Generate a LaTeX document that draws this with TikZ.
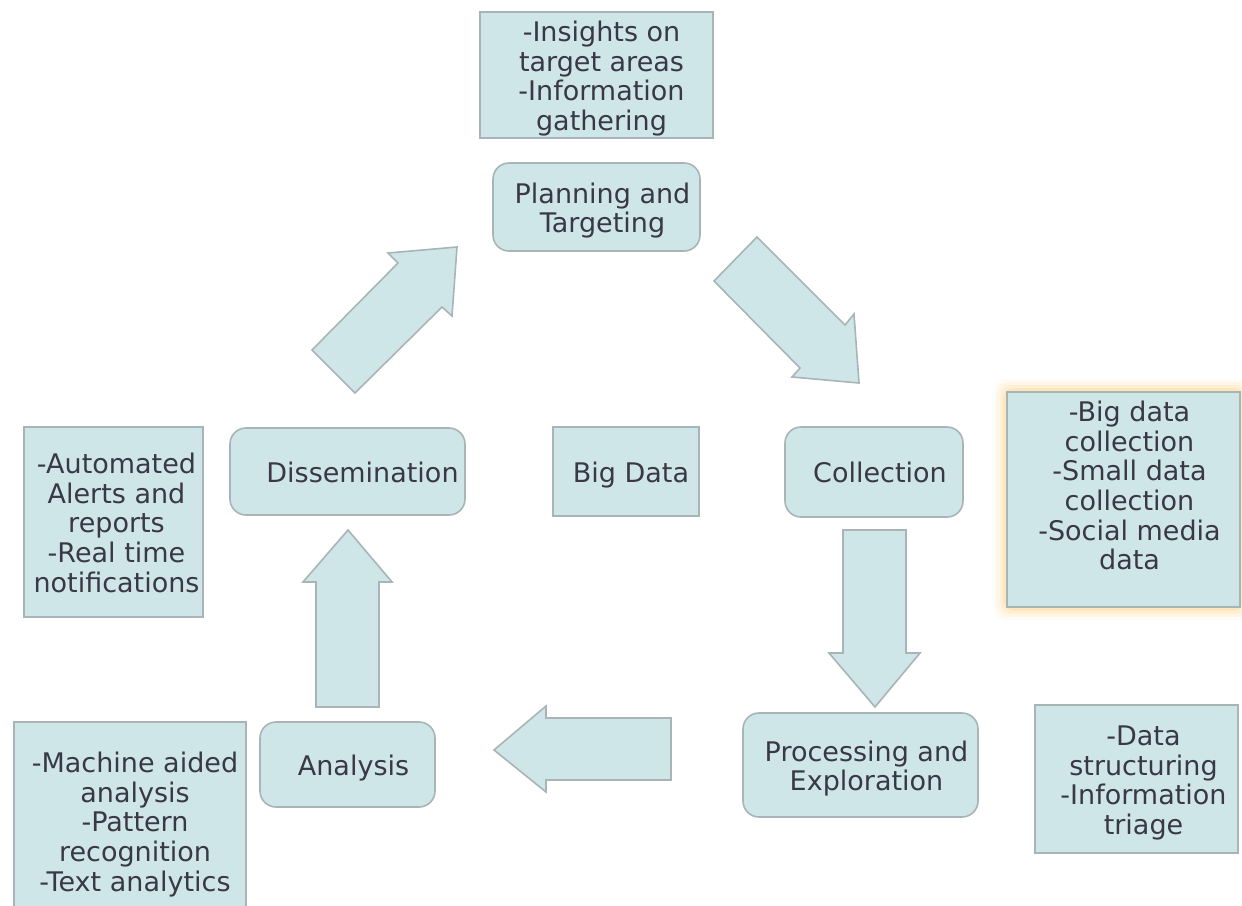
\documentclass[tikz,border=0pt]{standalone}
\usepackage{fontspec}
\setmainfont{DejaVu Sans}
\usetikzlibrary{calc}
\pgfdeclarelayer{background}
\pgfsetlayers{background,main}
\newlength\pxu \setlength\pxu{0.5pt}
\definecolor{boxfill}{RGB}{207,230,233}
\definecolor{boxline}{RGB}{168,180,182}
\definecolor{inkc}{RGB}{58,56,70}
\definecolor{glowc}{RGB}{255,196,90}
% centred block of lines, set a little right of and below the middle
\newcommand\cell[2]{\hspace*{#1}\raisebox{-2.5pt}[\height][\depth]{\begin{tabular}{@{}c@{}}#2\end{tabular}}}
\tikzset{
  base/.style={draw=boxline, fill=boxfill, line width=0.8pt, inner sep=0pt,
    text=inkc, font=\fontsize{13.5}{14.8}\selectfont},
  note/.style={base, rectangle},
  stage/.style={base, rounded corners=8pt},
  flow/.style={draw=boxline, fill=boxfill, line width=0.8pt, line join=miter},
}
\begin{document}
\begin{tikzpicture}[x=0.5pt, y=-0.5pt]
\useasboundingbox (0,0) rectangle (1242,905);
\clip (0,0) rectangle (1242,905);

% stages of the cycle
\node[stage, minimum width=207\pxu, minimum height=88\pxu] (plan) at (596.5,207)
  {\cell{6pt}{Planning and\\Targeting}};
\node[stage, minimum width=178\pxu, minimum height=90\pxu] (coll) at (874,472)
  {\cell{6pt}{Collection}};
\node[stage, minimum width=235\pxu, minimum height=104\pxu] (proc) at (860.5,765)
  {\cell{6pt}{Processing and\\Exploration}};
\node[stage, minimum width=175\pxu, minimum height=85\pxu] (ana) at (347.5,764.5)
  {\cell{6pt}{Analysis}};
\node[stage, minimum width=235\pxu, minimum height=87\pxu] (diss) at (347.5,471.5)
  {\cell{15pt}{Dissemination}};
\node[note, minimum width=146\pxu, minimum height=89\pxu] (bigd) at (626,471.5)
  {\cell{5pt}{Big Data}};

% notes beside each stage
\node[note, minimum width=233\pxu, minimum height=126\pxu] (plannote) at (596.5,75)
  {\cell{5pt}{-Insights on\\target areas\\-Information\\gathering}};
\node[note, minimum width=233\pxu, minimum height=215\pxu] (collnote) at (1123.5,499.5)
  {\cell{6pt}{-Big data\\collection\\-Small data\\collection\\-Social media\\data\\ \strut}};
\node[note, minimum width=203\pxu, minimum height=148\pxu] (procnote) at (1136.5,779)
  {\cell{7pt}{-Data\\structuring\\-Information\\triage}};
\node[note, minimum width=232\pxu, minimum height=198\pxu] (ananote) at (130,821)
  {\cell{5pt}{-Machine aided\\analysis\\-Pattern\\recognition\\-Text analytics}};
\node[note, minimum width=179\pxu, minimum height=190\pxu] (dissnote) at (113.5,522)
  {\cell{3pt}{-Automated\\Alerts and\\reports\\-Real time\\notifications}};

% soft highlight round the collection note
\begin{pgfonlayer}{background}
  \foreach \d/\o in {12/0.06, 9/0.09, 6/0.13, 3/0.2}
    \fill[glowc, opacity=\o, rounded corners=5pt]
      ($(collnote.north west)+(-\d,-\d)$) rectangle ($(collnote.south east)+(\d,\d)$);
\end{pgfonlayer}

% block arrows of the cycle
\draw[flow] (312,350) -- (398,263) -- (388,253) -- (457,247) -- (452,316)
  -- (442,307) -- (355,393) -- cycle;
\draw[flow] (714,281) -- (757,237) -- (845,325) -- (854,314) -- (859,383)
  -- (792,377) -- (800,368) -- cycle;
\draw[flow] (843,530) -- (906,530) -- (906,653) -- (920,653) -- (875,707)
  -- (829,653) -- (843,653) -- cycle;
\draw[flow] (671,718) -- (546,718) -- (546,706) -- (494,750) -- (546,792)
  -- (546,780) -- (671,780) -- cycle;
\draw[flow] (316,707) -- (316,582) -- (303,582) -- (348,530) -- (392,582)
  -- (379,582) -- (379,707) -- cycle;
\end{tikzpicture}
\end{document}
